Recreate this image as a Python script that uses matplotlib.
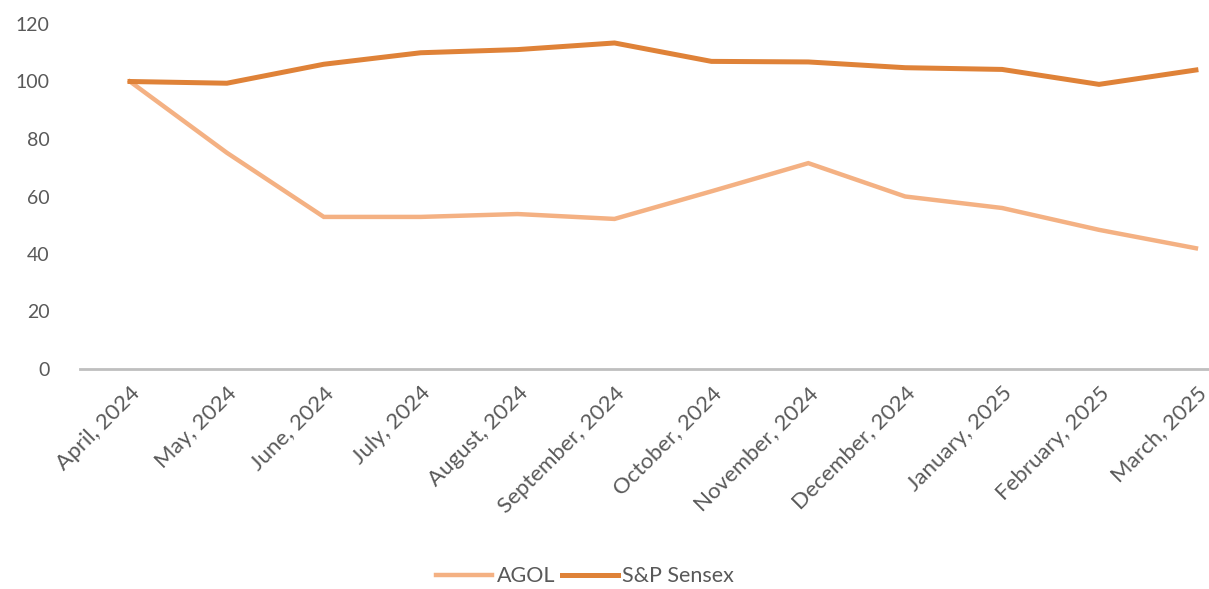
import matplotlib.pyplot as plt

# === Данные ===
months = ["April, 2024", "May, 2024", "June, 2024", "July, 2024", "August, 2024",
          "September, 2024", "October, 2024", "November, 2024", "December, 2024",
          "January, 2025", "February, 2025", "March, 2025"]
agol = [100, 75.2, 52.9, 52.9, 53.9, 52.2, 61.8, 71.6, 60.0, 56.0, 48.4, 42.0]
sensex = [100, 99.4, 106.0, 110.0, 111.1, 113.4, 107.0, 106.8, 104.8, 104.2, 99.0, 104.0]

plt.rcParams['font.family'] = ['Lato', 'DejaVu Sans']

fig = plt.figure(figsize=(12.09, 5.89), dpi=100)
ax = fig.add_axes([80 / 1209, 1 - 369 / 589, 1129 / 1209, 345 / 589])

x = range(len(months))
ax.plot(x, agol, color='#F4B183', lw=3.2, label='AGOL', solid_joinstyle='miter')
ax.plot(x, sensex, color='#DF8238', lw=3.6, label='S&P Sensex', solid_joinstyle='miter')

ax.set_ylim(0, 120)
ax.set_xlim(-0.516, 11.135)
ax.set_yticks(range(0, 121, 20))
ax.set_xticks(list(x))
ax.set_xticklabels(months, rotation=45, ha='right', rotation_mode='anchor')

for s in ['top', 'right', 'left']:
    ax.spines[s].set_visible(False)
ax.spines['bottom'].set_color('#BFBFBF')
ax.spines['bottom'].set_linewidth(2)
ax.tick_params(length=0, colors='#595959')
ax.tick_params(axis='y', pad=22, labelsize=14)
ax.tick_params(axis='x', pad=10, labelsize=16)

fig.legend(loc='center', bbox_to_anchor=(0.484, 0.022), ncol=2, frameon=False,
           fontsize=15.5, labelcolor='#595959', handlelength=2.6, handletextpad=0.2,
           columnspacing=0.3)

fig.savefig("out.png", dpi=100)
